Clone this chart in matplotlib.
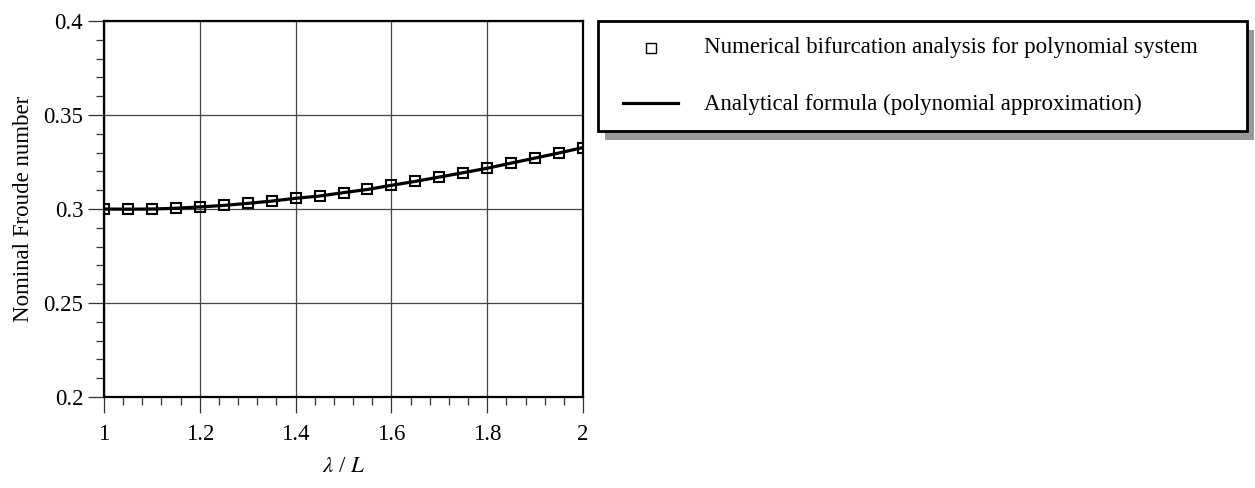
import numpy as np
import matplotlib
matplotlib.use("Agg")
import matplotlib.pyplot as plt
from matplotlib.ticker import MultipleLocator
from matplotlib.patches import Rectangle
from matplotlib.lines import Line2D

# --- Daten ---
lam_L = [1.00, 1.05, 1.10, 1.15, 1.20, 1.25, 1.30, 1.35, 1.40, 1.45, 1.50,
         1.55, 1.60, 1.65, 1.70, 1.75, 1.80, 1.85, 1.90, 1.95, 2.00]
froude_num = [0.3000, 0.2999, 0.3000, 0.3004, 0.3011, 0.3019, 0.3030, 0.3042,
              0.3057, 0.3069, 0.3087, 0.3104, 0.3126, 0.3147, 0.3170, 0.3193,
              0.3217, 0.3244, 0.3271, 0.3298, 0.3327]
# analytische Kurve (gleiche Stuetzstellen)
froude_ana = list(froude_num)

label_num = "Numerical bifurcation analysis for polynomial system"
label_ana = "Analytical formula (polynomial approximation)"

plt.rcParams['font.family'] = ['Liberation Serif', 'DejaVu Serif']
plt.rcParams['mathtext.fontset'] = 'stix'
plt.rcParams['font.size'] = 16.5

W, H = 1255, 488
fig = plt.figure(figsize=(W / 100, H / 100), dpi=100)
ax = fig.add_axes([104/W, 91/H, 479/W, 376/H])


def fx(px):
    return px / W


def fy(py):
    # Pixel von oben -> Figurkoordinate
    return 1 - py / H


ax.plot(lam_L, froude_ana, color='black', lw=2.3, zorder=3)
ax.plot(lam_L, froude_num, linestyle='none', marker='s', ms=7.5, mfc='none',
        mec='black', mew=1.5, zorder=4)

ax.set_xlim(1, 2)
ax.set_ylim(0.2, 0.4)
ax.xaxis.set_minor_locator(MultipleLocator(0.04))
ax.yaxis.set_minor_locator(MultipleLocator(0.01))
ax.set_xticks([1, 1.2, 1.4, 1.6, 1.8, 2])
ax.set_xticklabels(["1", "1.2", "1.4", "1.6", "1.8", "2"])
ax.set_yticks([0.2, 0.25, 0.3, 0.35, 0.4])
ax.set_yticklabels(["0.2", "0.25", "0.3", "0.35", "0.4"])

ax.tick_params(which='major', direction='out', length=11.5, width=0.9, color='#333333')
ax.tick_params(which='minor', direction='out', length=5.8, width=0.9, color='#333333')
ax.tick_params(axis='x', which='major', pad=8)
ax.tick_params(axis='y', which='major', pad=3.5)

ax.grid(True, which='major', color='#444444', lw=0.9)
for s in ax.spines.values():
    s.set_linewidth(1.6)
    s.set_color('black')
    s.set_zorder(5)

ax.set_xlabel(r"$\lambda$ / $L$", labelpad=8)
ax.set_ylabel("Nominal Froude number", labelpad=7)

# --- Legende (Kasten mit grauem Schatten) ---
box_l, box_t, box_r, box_b = 598, 21, 1247, 131
sh_dx, sh_dy = 7, 9
fig.add_artist(Rectangle((fx(box_l + sh_dx), fy(box_b + sh_dy)),
                         fx(box_r - box_l), (box_b - box_t) / H,
                         transform=fig.transFigure, facecolor='#999999',
                         edgecolor='none', zorder=1))
fig.add_artist(Rectangle((fx(box_l), fy(box_b)),
                         fx(box_r - box_l), (box_b - box_t) / H,
                         transform=fig.transFigure, facecolor='white',
                         edgecolor='black', lw=2.0, zorder=2))
fig.add_artist(Line2D([fx(651)], [fy(48)], transform=fig.transFigure,
                      linestyle='none', marker='s', ms=7.5, mfc='none',
                      mec='black', mew=1.0, zorder=3))
fig.add_artist(Line2D([fx(623), fx(678)], [fy(103), fy(103)],
                      transform=fig.transFigure, color='black', lw=2.3, zorder=3))
fig.text(fx(704), fy(53), label_num, ha='left', va='baseline', zorder=3)
fig.text(fx(704), fy(110), label_ana, ha='left', va='baseline', zorder=3)

fig.savefig("out.png", dpi=100)
